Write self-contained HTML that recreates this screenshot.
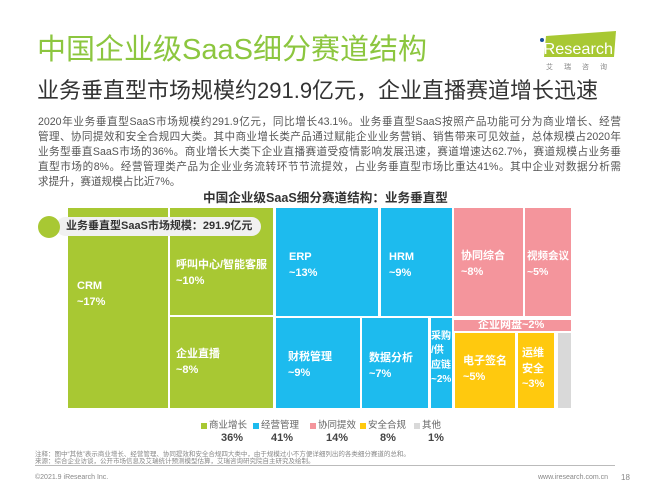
<!DOCTYPE html>
<html><head><meta charset="utf-8">
<style>
*{margin:0;padding:0;box-sizing:border-box}
body{width:650px;height:488px;background:#fff;position:relative;overflow:hidden;font-family:"Liberation Sans","Noto Sans CJK SC",sans-serif}
.a{position:absolute;white-space:nowrap}
.title{left:37px;top:32px;font-size:29px;color:#8cc63f;line-height:36px}
.sub{left:37px;top:77px;font-size:22px;color:#333;line-height:28px}
.body{left:38px;width:583px;font-size:10.6px;color:#555;line-height:15px;text-align:justify;text-align-last:justify;white-space:nowrap;overflow:visible}
.ct{left:203px;top:191px;font-size:12.6px;font-weight:bold;color:#333;line-height:15px}
.b{position:absolute}
.g{background:#a8c833}.bl{background:#1dbbee}.p{background:#f4959c}.y{background:#ffc90e}.gr{background:#d9d9d9}
.lb{position:absolute;color:#fff;font-weight:bold;font-size:11px;line-height:15.5px;white-space:nowrap}
.lg{font-size:9.5px;color:#666;top:420px;line-height:12px}
.sq{position:absolute;width:6px;height:6px;top:423px}
.pc{font-size:11px;font-weight:bold;color:#444;top:432px;line-height:13px;transform:translateX(-50%)}
.note{left:35px;font-size:6.5px;color:#888;line-height:7px}
</style></head><body>
<div class="a title">中国企业级SaaS细分赛道结构</div>
<div class="a sub">业务垂直型市场规模约291.9亿元，企业直播赛道增长迅速</div>

<svg class="a" style="left:536px;top:30px" width="84" height="44" viewBox="0 0 84 44">
<polygon points="10,6 80,1 78,27 8,27" fill="#a8c833"/>
<circle cx="6" cy="10" r="2" fill="#1a4f9c"/>
<text x="3" y="24" font-family="Liberation Sans, sans-serif" font-size="16" fill="#fff" textLength="74" lengthAdjust="spacingAndGlyphs">/Research</text>
<text x="10" y="39" font-family="Liberation Sans, Noto Sans CJK SC, sans-serif" font-size="7" fill="#888" letter-spacing="11">艾瑞咨询</text>
</svg>

<div class="a body" style="top:115px;white-space:normal">2020年业务垂直型SaaS市场规模约291.9亿元，同比增长43.1%。业务垂直型SaaS按照产品功能可分为商业增长、经营</div>
<div class="a body" style="top:130px;white-space:normal">管理、协同提效和安全合规四大类。其中商业增长类产品通过赋能企业业务营销、销售带来可见效益，总体规模占2020年</div>
<div class="a body" style="top:145px;white-space:normal">业务型垂直SaaS市场的36%。商业增长大类下企业直播赛道受疫情影响发展迅速，赛道增速达62.7%，赛道规模占业务垂</div>
<div class="a body" style="top:160px;white-space:normal">直型市场的8%。经营管理类产品为企业业务流转环节节流提效，占业务垂直型市场比重达41%。其中企业对数据分析需</div>
<div class="a body" style="top:175px;text-align-last:left">求提升，赛道规模占比近7%。</div>

<div class="a ct">中国企业级SaaS细分赛道结构：业务垂直型</div>

<!-- treemap -->
<div class="b g" style="left:68px;top:208px;width:100px;height:200px"></div>
<div class="b g" style="left:170px;top:208px;width:103px;height:107px"></div>
<div class="b g" style="left:170px;top:317px;width:103px;height:91px"></div>
<div class="b bl" style="left:276px;top:208px;width:102px;height:108px"></div>
<div class="b bl" style="left:381px;top:208px;width:71px;height:108px"></div>
<div class="b bl" style="left:276px;top:318px;width:84px;height:90px"></div>
<div class="b bl" style="left:362px;top:318px;width:66px;height:90px"></div>
<div class="b bl" style="left:431px;top:318px;width:21px;height:90px"></div>
<div class="b p" style="left:454px;top:208px;width:69px;height:108px"></div>
<div class="b p" style="left:525px;top:208px;width:46px;height:108px"></div>
<div class="b p" style="left:454px;top:320px;width:117px;height:11px"></div>
<div class="b y" style="left:455px;top:333px;width:60px;height:75px"></div>
<div class="b y" style="left:518px;top:333px;width:36px;height:75px"></div>
<div class="b gr" style="left:558px;top:333px;width:13px;height:75px"></div>

<div class="lb" style="left:77px;top:279px">CRM<br>~17%</div>
<div class="lb" style="left:176px;top:258px">呼叫中心/智能客服<br>~10%</div>
<div class="lb" style="left:176px;top:347px">企业直播<br>~8%</div>
<div class="lb" style="left:289px;top:250px">ERP<br>~13%</div>
<div class="lb" style="left:288px;top:350px">财税管理<br>~9%</div>
<div class="lb" style="left:389px;top:250px">HRM<br>~9%</div>
<div class="lb" style="left:369px;top:351px">数据分析<br>~7%</div>
<div class="lb" style="left:431px;top:330px;font-size:10px;line-height:14.3px">采购<br>/供<br>应链<br>~2%</div>
<div class="lb" style="left:461px;top:249px">协同综合<br>~8%</div>
<div class="lb" style="left:527px;top:249px;font-size:10.5px">视频会议<br>~5%</div>
<div class="lb" style="left:478px;top:318px">企业网盘~2%</div>
<div class="lb" style="left:463px;top:354px">电子签名<br>~5%</div>
<div class="lb" style="left:522px;top:346px">运维<br>安全<br>~3%</div>

<!-- pill -->
<div class="b" style="left:56px;top:217px;width:205px;height:19px;background:#f1f1f1;border-radius:10px"></div>
<div class="b" style="left:38px;top:216px;width:22px;height:22px;background:#a8c833;border-radius:50%"></div>
<div class="a" style="left:66px;top:219px;font-size:11px;font-weight:bold;color:#333;line-height:15px">业务垂直型SaaS市场规模：291.9亿元</div>

<!-- legend -->
<div class="sq g" style="left:201px"></div><div class="a lg" style="left:209px">商业增长</div>
<div class="sq bl" style="left:253px"></div><div class="a lg" style="left:261px">经营管理</div>
<div class="sq p" style="left:310px"></div><div class="a lg" style="left:318px">协同提效</div>
<div class="sq y" style="left:360px"></div><div class="a lg" style="left:368px">安全合规</div>
<div class="sq gr" style="left:414px"></div><div class="a lg" style="left:422px">其他</div>
<div class="a pc" style="left:232px">36%</div>
<div class="a pc" style="left:282px">41%</div>
<div class="a pc" style="left:337px">14%</div>
<div class="a pc" style="left:388px">8%</div>
<div class="a pc" style="left:436px">1%</div>

<!-- notes -->
<div class="a note" style="top:451px">注释：图中“其他”表示商业增长、经营管理、协同提效和安全合规四大类中，由于规模过小不方便详细列出的各类细分赛道的总和。</div>
<div class="a note" style="top:458px">来源：综合企业访谈，公开市场信息及艾瑞统计预测模型估算，艾瑞咨询研究院自主研究及绘制。</div>
<div class="b" style="left:35px;top:465px;width:580px;height:1px;background:#bbb"></div>
<div class="a" style="left:35px;top:474px;font-size:7px;color:#888">©2021.9 iResearch Inc.</div>
<div class="a" style="left:538px;top:474px;font-size:7px;color:#888">www.iresearch.com.cn</div>
<div class="a" style="left:621px;top:473px;font-size:8px;color:#888">18</div>
</body></html>
